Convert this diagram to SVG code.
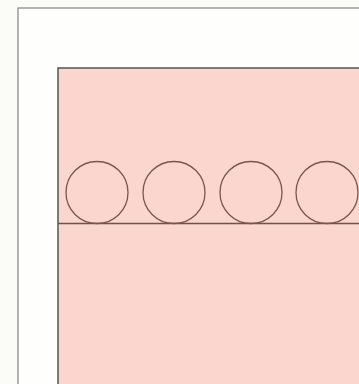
<svg xmlns="http://www.w3.org/2000/svg" width="359" height="384" viewBox="0 0 359 384">
<style>
.c{fill:none;stroke:#7a5550;stroke-width:1.3}
</style>
<rect width="359" height="384" fill="#fbfbf8"/>
<g id="outer-frame">
<rect x="18" y="8" width="360" height="400" fill="#fefefc" stroke="#8c8c8c" stroke-width="1.3"/>
</g>
<g id="panel">
<rect x="58" y="68" width="320" height="340" fill="#fbd6cf" stroke="#555" stroke-width="1.5"/>
</g>
<g id="ground">
<line x1="58" y1="223.5" x2="359" y2="223.5" stroke="#6e5450" stroke-width="1.3"/>
</g>
<g id="circle1"><circle class="c" cx="97" cy="192.5" r="31"/></g>
<g id="circle2"><circle class="c" cx="174" cy="192.5" r="31"/></g>
<g id="circle3"><circle class="c" cx="251" cy="192.5" r="31"/></g>
<g id="circle4"><circle class="c" cx="327" cy="192.5" r="31"/></g>
<g id="connectors"></g>
</svg>
